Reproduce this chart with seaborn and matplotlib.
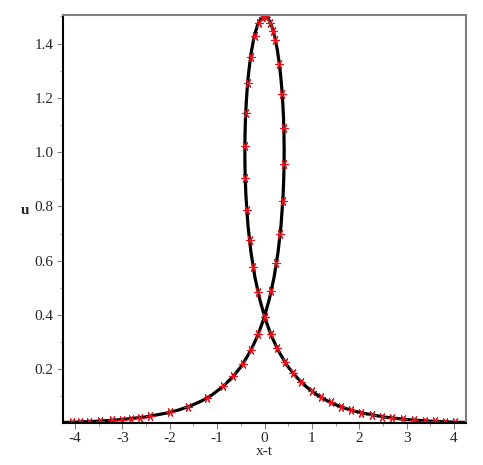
import numpy as np
import pandas as pd
import matplotlib
matplotlib.use("Agg")
import matplotlib.pyplot as plt
from matplotlib.ticker import MultipleLocator, FixedLocator
import seaborn as sns

# --- curve (black line) ---
line_x = [-4.254, -4.006, -3.509, -3.015, -2.524, -2.040, -1.801, -1.566, -1.334,
          -1.108, -0.888, -0.676, -0.473, -0.285, -0.144, -0.015, 0.101, 0.202,
          0.285, 0.349, 0.392, 0.405, 0.413, 0.415, 0.411, 0.402, 0.386, 0.366,
          0.340, 0.309, 0.274, 0.235, 0.192, 0.147, 0.099, 0.050, 0.0,
          -0.050, -0.099, -0.147, -0.192, -0.235, -0.274, -0.309, -0.340, -0.366,
          -0.386, -0.402, -0.411, -0.415, -0.413, -0.405, -0.392, -0.349, -0.285,
          -0.202, -0.101, 0.015, 0.144, 0.285, 0.473, 0.676, 0.888, 1.108, 1.334,
          1.566, 1.801, 2.040, 2.524, 3.015, 3.509, 4.006, 4.254]
line_u = [0.0042, 0.0055, 0.0090, 0.0148, 0.0243, 0.0399, 0.0509, 0.0652, 0.083,
          0.106, 0.135, 0.171, 0.215, 0.271, 0.324, 0.386, 0.458, 0.539,
          0.630, 0.730, 0.839, 0.895, 0.952, 1.010, 1.067, 1.124, 1.180, 1.233,
          1.284, 1.330, 1.373, 1.410, 1.442, 1.467, 1.485, 1.496, 1.500,
          1.496, 1.485, 1.467, 1.442, 1.410, 1.373, 1.330, 1.284, 1.233,
          1.180, 1.124, 1.067, 1.010, 0.952, 0.895, 0.839, 0.730, 0.630,
          0.539, 0.458, 0.386, 0.324, 0.271, 0.215, 0.171, 0.135, 0.106, 0.083,
          0.0652, 0.0509, 0.0399, 0.0243, 0.0148, 0.0090, 0.0055, 0.0042]

# --- red asterisk markers ---
mark_x = [-4.07, -3.89, -3.70, -3.48, -3.22, -3.01, -2.82, -2.62, -2.42, -1.99,
          -1.61, -1.22, -0.87, -0.66, -0.46, -0.29, -0.13, 0.0,
          0.137, 0.248, 0.330, 0.385, 0.413, 0.406, 0.370, 0.312, 0.230, 0.180,
          0.123, 0.04, 0.0, -0.04,
          -0.123, -0.210, -0.291, -0.352, -0.394, -0.412, -0.404, -0.371, -0.314,
          -0.236, -0.136, 0.0,
          0.13, 0.27, 0.43, 0.61, 0.78, 1.00, 1.19, 1.40, 1.61, 1.82, 2.03, 2.26,
          2.49, 2.70, 2.93, 3.16, 3.39, 3.60, 3.81, 4.02]
mark_u = [0.0052, 0.0063, 0.0077, 0.0093, 0.0124, 0.0149, 0.0186, 0.0224, 0.0277, 0.0422,
          0.0625, 0.0946, 0.138, 0.175, 0.219, 0.270, 0.331, 0.394,
          0.487, 0.59, 0.70, 0.82, 0.955, 1.089, 1.215, 1.326, 1.414, 1.447,
          1.476, 1.497, 1.500, 1.497,
          1.476, 1.428, 1.352, 1.256, 1.144, 1.023, 0.903, 0.786, 0.675,
          0.576, 0.486, 0.394,
          0.331, 0.277, 0.228, 0.185, 0.153, 0.120, 0.0977, 0.0780, 0.0625, 0.0500, 0.0403, 0.0328,
          0.0254, 0.0209, 0.0164, 0.0131, 0.0104, 0.0084, 0.0069, 0.0055]

x_ticks = [-4, -3, -2, -1, 0, 1, 2, 3, 4]
y_ticks = [0.2, 0.4, 0.6, 0.8, 1.0, 1.2, 1.4]

sns.set_style("white")
plt.rcParams['font.family'] = ['Liberation Serif', 'DejaVu Serif']
plt.rcParams['axes.unicode_minus'] = False

df_line = pd.DataFrame({'x': line_x, 'u': line_u, 'order': np.arange(len(line_x))})
df_mark = pd.DataFrame({'x': mark_x, 'u': mark_u})

fig = plt.figure(figsize=(4.83, 4.65), dpi=100)
ax = fig.add_axes([63 / 483, 1 - 422.5 / 465, 403 / 483, 407.5 / 465])

sns.lineplot(data=df_line, x='x', y='u', sort=False, estimator=None,
             color='black', linewidth=2.3, ax=ax)
ax.plot(df_mark['x'], df_mark['u'], linestyle='none', marker=(6, 2, 90),
        markersize=6.5, markeredgewidth=0.8, color='#e8101a')

ax.set_xlim(-4.254, 4.254)
ax.set_ylim(0.0042, 1.505)

ax.xaxis.set_major_locator(FixedLocator(x_ticks))
ax.yaxis.set_major_locator(FixedLocator(y_ticks))
ax.xaxis.set_minor_locator(MultipleLocator(0.5))
ax.yaxis.set_minor_locator(MultipleLocator(0.1))
ax.set_xticklabels([str(t) for t in x_ticks])
ax.set_yticklabels([f"{t:.1f}" for t in y_ticks])

ax.tick_params(which='major', direction='out', length=4, width=0.8,
               color='#808080', labelsize=11, pad=3)
ax.tick_params(which='minor', direction='out', length=2.5, width=0.8,
               color='#a0a0a0')
ax.tick_params(axis='x', which='both', bottom=True)
ax.tick_params(axis='y', which='both', left=True)

for side in ['left', 'bottom']:
    ax.spines[side].set_color('black')
    ax.spines[side].set_linewidth(1.5)
for side in ['top', 'right']:
    ax.spines[side].set_color('#7f7f7f')
    ax.spines[side].set_linewidth(1.5)

ax.set_xlabel('x-t', fontsize=11)
ax.set_ylabel('u', fontsize=11, rotation=0, fontweight='bold')
ax.xaxis.set_label_coords(0.5, -0.055)
ax.yaxis.set_label_coords(-0.094, 0.505)

fig.savefig('out.png', dpi=100)
